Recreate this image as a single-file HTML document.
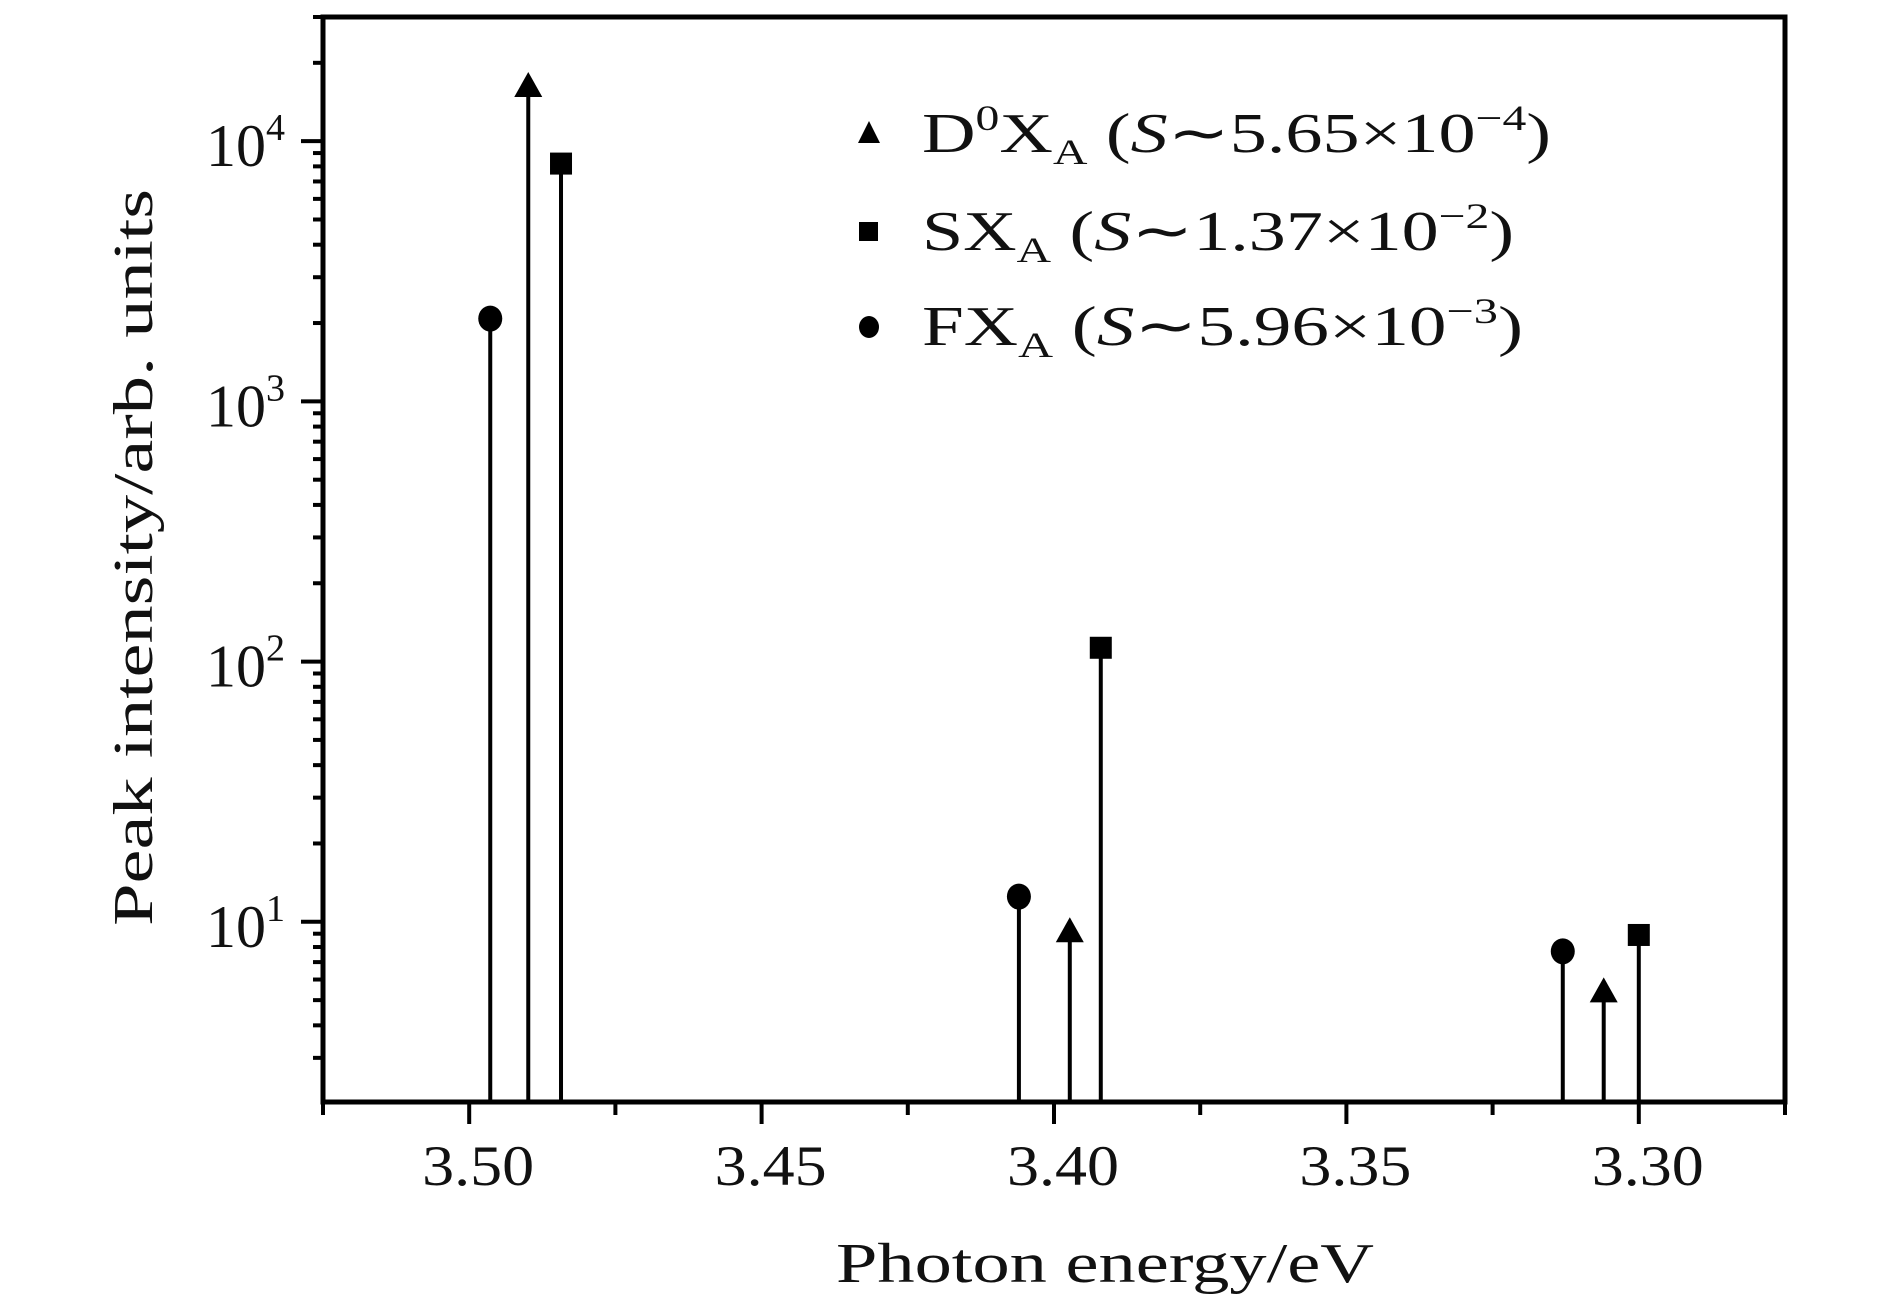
<!DOCTYPE html>
<html><head><meta charset="utf-8"><style>
html,body{margin:0;padding:0;background:#fff;}
svg{display:block;font-family:"Liberation Serif",serif;}
</style></head><body>
<svg id="chart" width="1890" height="1300" viewBox="0 0 1890 1300" xmlns="http://www.w3.org/2000/svg">
<g id="marks"></g>
<g id="axes"></g>
<g fill="#111" font-size="56">
  <g>
    <polygon points="869,121 880,143 858,143" fill="#000"/>
    <text x="922" y="152" textLength="629" lengthAdjust="spacingAndGlyphs">D<tspan dy="-22" font-size="36">0</tspan><tspan dy="22">X</tspan><tspan dy="12" font-size="36">A</tspan><tspan dy="-12"> (</tspan><tspan font-style="italic">S</tspan>∼5.65×10<tspan dy="-22" font-size="36">−4</tspan><tspan dy="22">)</tspan></text>
  </g>
  <g>
    <rect x="859" y="222" width="19" height="19" fill="#000"/>
    <text x="922" y="250" textLength="592" lengthAdjust="spacingAndGlyphs">SX<tspan dy="12" font-size="36">A</tspan><tspan dy="-12"> (</tspan><tspan font-style="italic">S</tspan>∼1.37×10<tspan dy="-22" font-size="36">−2</tspan><tspan dy="22">)</tspan></text>
  </g>
  <g>
    <ellipse cx="869" cy="327" rx="10" ry="11" fill="#000"/>
    <text x="922" y="345" textLength="601" lengthAdjust="spacingAndGlyphs">FX<tspan dy="12" font-size="36">A</tspan><tspan dy="-12"> (</tspan><tspan font-style="italic">S</tspan>∼5.96×10<tspan dy="-22" font-size="36">−3</tspan><tspan dy="22">)</tspan></text>
  </g>
</g>
<text x="836" y="1282" font-size="56" textLength="538" lengthAdjust="spacingAndGlyphs" fill="#111">Photon energy/eV</text>
<text transform="translate(152,926) rotate(-90)" font-size="56" textLength="737" lengthAdjust="spacingAndGlyphs" fill="#111">Peak intensity/arb. units</text>
</svg>
<script>
// data
const d0xEnergy = [3.4899, 3.3973, 3.306];
const d0xValue = [16300, 9.2, 5.4];
const sxEnergy = [3.4843, 3.392, 3.300];
const sxValue = [8200, 113, 8.9];
const fxEnergy = [3.4964, 3.406, 3.313];
const fxValue = [2080, 12.5, 7.7];
const xTicks = [3.50, 3.45, 3.40, 3.35, 3.30];
const xTickLabels = ["3.50", "3.45", "3.40", "3.35", "3.30"];
const yDecades = [1, 2, 3, 4];

const L = 323, R = 1785, T = 17, B = 1102;
const X0 = 3.525, X1 = 3.275, Ylo = Math.log10(2.03), Yhi = Math.log10(30000);
const xs = v => L + (v - X0) / (X1 - X0) * (R - L);
const ys = v => B - (Math.log10(v) - Ylo) / (Yhi - Ylo) * (B - T);
const NS = "http://www.w3.org/2000/svg";
function mk(tag, attrs, parent) {
  const e = document.createElementNS(NS, tag);
  for (const k in attrs) e.setAttribute(k, attrs[k]);
  parent.appendChild(e);
  return e;
}
const marks = document.getElementById('marks');
const axes = document.getElementById('axes');

function stem(x, v, shape, name) {
  const cx = xs(x), cy = ys(v);
  const ln = mk('line', {x1: cx, x2: cx, y1: B, y2: cy, stroke: '#000', 'stroke-width': 4}, marks);
  
  
  let m;
  if (shape === 'tri') {
    m = mk('polygon', {points: `${cx},${cy - 14} ${cx + 14},${cy + 11} ${cx - 14},${cy + 11}`, fill: '#000'}, marks);
  } else if (shape === 'sq') {
    m = mk('rect', {x: cx - 11, y: cy - 11, width: 22, height: 22, fill: '#000'}, marks);
  } else {
    m = mk('ellipse', {cx: cx, cy: cy, rx: 12, ry: 13, fill: '#000'}, marks);
  }
  
  
}
d0xEnergy.forEach((e, i) => stem(e, d0xValue[i], 'tri', 'd0xa-peak-' + (i + 1)));
sxEnergy.forEach((e, i) => stem(e, sxValue[i], 'sq', 'sxa-peak-' + (i + 1)));
fxEnergy.forEach((e, i) => stem(e, fxValue[i], 'circ', 'fxa-peak-' + (i + 1)));

// frame
const frame = mk('rect', {x: L, y: T, width: R - L, height: B - T, fill: 'none', stroke: '#000', 'stroke-width': 5}, axes);



// x ticks
for (let t = 3.525; t >= 3.2749; t -= 0.025) {
  const tv = Math.round(t * 1000) / 1000;
  const major = xTicks.some(m => Math.abs(m - tv) < 1e-6);
  const tk = mk('line', {x1: xs(tv), x2: xs(tv), y1: B, y2: B + (major ? 22 : 13), stroke: '#000', 'stroke-width': 4}, axes);
  
  
}
xTicks.forEach((t, i) => {
  const lb = mk('text', {x: xs(t) - 47, y: 1185, 'font-size': 57, textLength: 112, lengthAdjust: 'spacingAndGlyphs', fill: '#111'}, axes);
  lb.textContent = xTickLabels[i];
  
  
});

// y ticks
for (let d = 0; d <= 4; d++) {
  for (let k = 1; k <= 9; k++) {
    const v = k * Math.pow(10, d);
    if (v < 2.03 || v > 30000) continue;
    const y = ys(v);
    const tk = mk('line', {x1: L - (k === 1 ? 22 : 10), x2: L, y1: y, y2: y, stroke: '#000', 'stroke-width': 4}, axes);
    
    
  }
}
yDecades.forEach(d => {
  const y = ys(Math.pow(10, d));
  const lb = mk('text', {x: 285, y: y + 25, 'font-size': 60, 'text-anchor': 'end', fill: '#111'}, axes);
  
  
  const base = document.createElementNS(NS, 'tspan');
  base.textContent = '10';
  lb.appendChild(base);
  const sup = document.createElementNS(NS, 'tspan');
  sup.setAttribute('dy', '-26');
  sup.setAttribute('font-size', '38');
  sup.textContent = String(d);
  lb.appendChild(sup);
});
</script>
</body></html>
